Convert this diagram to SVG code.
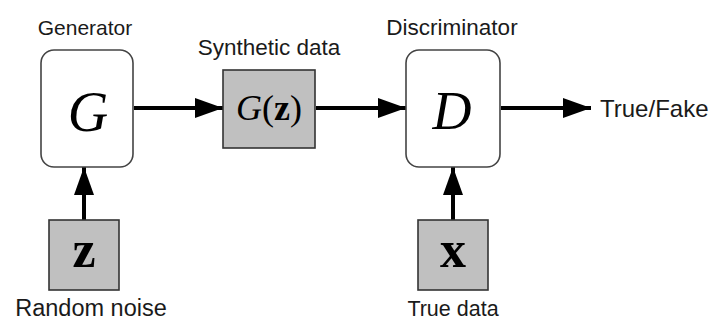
<svg xmlns="http://www.w3.org/2000/svg" width="713" height="320" viewBox="0 0 713 320">
<style>
.lbl{font-family:"Liberation Sans",Arial,sans-serif;fill:#1a1a1a;}
.math{font-family:"Liberation Serif","Times New Roman",serif;fill:#000;}
.rbox{fill:#fff;stroke:#444;stroke-width:1.6;}
.gbox{fill:#c0c0c0;stroke:#333;stroke-width:1.6;}
.conn{stroke:#000;stroke-width:4;fill:none;}
</style>
<defs>
<marker id="ah" markerUnits="userSpaceOnUse" markerWidth="28" markerHeight="20" refX="28" refY="10" orient="auto">
<path d="M0,0 L28,10 L0,20 Z" fill="#000"/>
</marker>
</defs>
<rect width="713" height="320" fill="#fff"/>
<g id="connectors">
<line class="conn" x1="134" y1="108" x2="223" y2="108" marker-end="url(#ah)"/>
<line class="conn" x1="316" y1="108" x2="406" y2="108" marker-end="url(#ah)"/>
<line class="conn" x1="501" y1="108" x2="591" y2="108" marker-end="url(#ah)"/>
<line class="conn" x1="84" y1="220" x2="84" y2="167" marker-end="url(#ah)"/>
<line class="conn" x1="453" y1="220" x2="453" y2="167" marker-end="url(#ah)"/>
</g>
<g id="generator">
<rect class="rbox" x="41" y="50" width="92" height="117" rx="13"/>
<text class="math" x="88" y="131" font-size="56" font-style="italic" text-anchor="middle">G</text>
<text class="lbl" x="85" y="35" font-size="21" text-anchor="middle">Generator</text>
</g>
<g id="synthetic">
<rect class="gbox" x="223" y="70" width="92" height="78"/>
<text class="math" x="269" y="120" font-size="36" text-anchor="middle"><tspan font-style="italic">G</tspan>(<tspan font-weight="bold">z</tspan>)</text>
<text class="lbl" x="269" y="55" font-size="22.5" text-anchor="middle">Synthetic data</text>
</g>
<g id="discriminator">
<rect class="rbox" x="406" y="50" width="94" height="117" rx="13"/>
<text class="math" x="452" y="129" font-size="54" font-style="italic" text-anchor="middle">D</text>
<text class="lbl" x="452" y="35" font-size="22.5" text-anchor="middle">Discriminator</text>
</g>
<g id="output">
<text class="lbl" x="600" y="117" font-size="24">True/Fake</text>
</g>
<g id="noise">
<rect class="gbox" x="49" y="220" width="70" height="70"/>
<text class="math" x="84" y="267" font-size="52" font-weight="bold" text-anchor="middle">z</text>
<text class="lbl" x="91" y="316" font-size="23.5" text-anchor="middle">Random noise</text>
</g>
<g id="truedata">
<rect class="gbox" x="418" y="220" width="70" height="70"/>
<text class="math" x="453" y="267" font-size="52" font-weight="bold" text-anchor="middle">x</text>
<text class="lbl" x="453" y="316" font-size="21.5" text-anchor="middle">True data</text>
</g>
</svg>
